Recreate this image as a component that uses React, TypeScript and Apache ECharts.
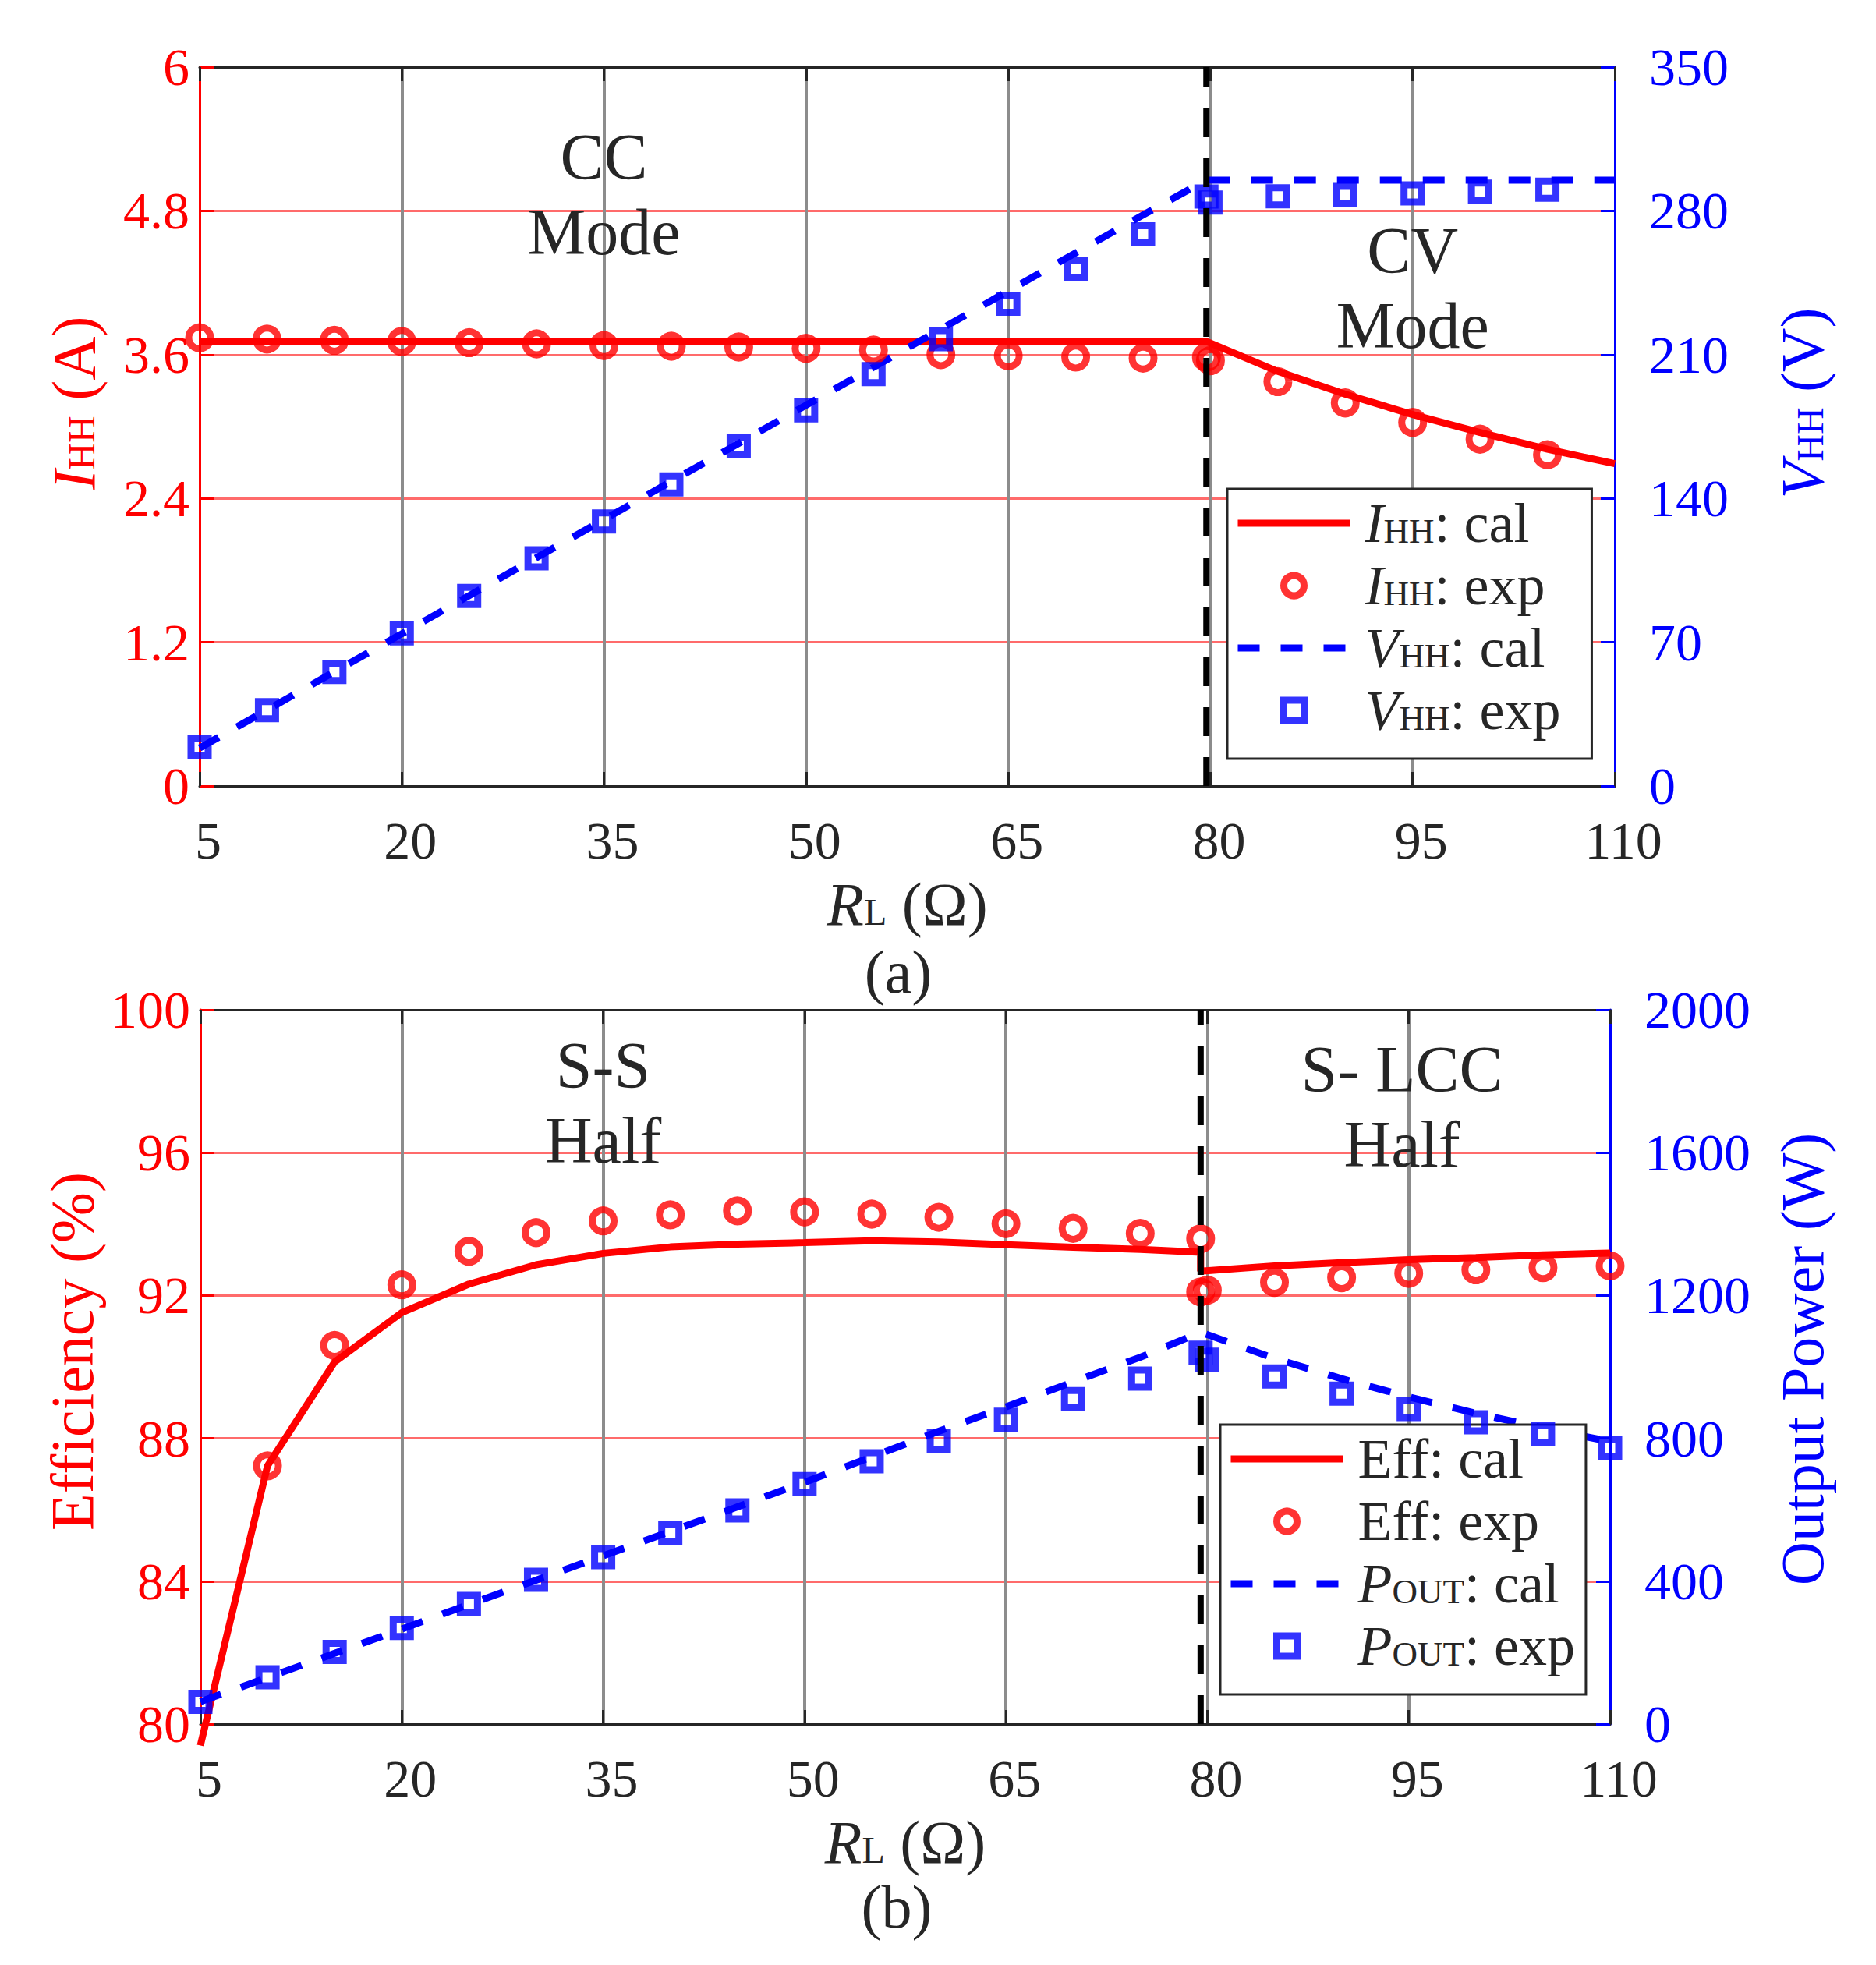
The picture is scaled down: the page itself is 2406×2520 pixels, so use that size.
import React, { useEffect, useRef } from 'react';
import * as echarts from 'echarts';

const FONT = 'Liberation Serif';
const RED = '#ff0000';
const BLUE = '#0000ff';
const DARK = '#262626';
const GRID_GRAY = '#8c8c8c';
const GRID_RED = '#ff6b6b';

// ---- (a) I_HH / V_HH vs R_L ----
const rCalA = [5, 10, 15, 20, 25, 30, 35, 40, 45, 50, 55, 60, 65, 70, 75, 79.7, 85, 90, 95, 100, 105, 110];
const iCal = [3.71, 3.71, 3.71, 3.71, 3.71, 3.71, 3.71, 3.71, 3.71, 3.71, 3.71, 3.71, 3.71, 3.71, 3.71, 3.71, 3.46, 3.27, 3.1, 2.95, 2.81, 2.69];
const vCal = [18.5, 37, 55.6, 74.1, 92.7, 111.2, 129.7, 148.3, 166.8, 185.4, 203.9, 222.4, 241, 259.5, 278, 295, 295, 295, 295, 295, 295, 295];

const rExpA = [5, 10, 15, 20, 25, 30, 35, 40, 45, 50, 55, 60, 65, 70, 75, 79.7, 80, 85, 90, 95, 100, 105];
const iExp = [3.74, 3.73, 3.72, 3.71, 3.7, 3.69, 3.675, 3.67, 3.664, 3.653, 3.638, 3.6, 3.59, 3.58, 3.571, 3.577, 3.55, 3.375, 3.197, 3.034, 2.894, 2.764];
const vExp = [18.8, 36.9, 55.5, 74.3, 92.5, 110.8, 128.8, 146.8, 165.3, 182.9, 200.5, 217.5, 234.8, 251.8, 268.6, 287, 284, 287.1, 287.7, 288.5, 289.4, 290.3];

const boundaryA = 79.7;

// ---- (b) efficiency / output power vs R_L ----
const rEffCal = [5, 10, 15, 20, 25, 30, 35, 40, 45, 50, 55, 60, 65, 70, 75, 79.5, 79.5, 85, 90, 95, 100, 105, 110];
const effCal = [79.4, 87.23, 90.14, 91.52, 92.32, 92.86, 93.18, 93.36, 93.44, 93.48, 93.53, 93.5, 93.42, 93.35, 93.29, 93.21, 92.68, 92.83, 92.92, 93.0, 93.06, 93.14, 93.19];

const rEffExp = [10, 15, 20, 25, 30, 35, 40, 45, 50, 55, 60, 65, 70, 75, 79.5, 79.5, 80, 85, 90, 95, 100, 105, 110];
const effExp = [87.23, 90.6, 92.3, 93.24, 93.76, 94.09, 94.26, 94.37, 94.34, 94.28, 94.19, 94.01, 93.88, 93.74, 93.59, 92.1, 92.15, 92.37, 92.5, 92.62, 92.72, 92.78, 92.83];

const rPCal = [5, 10, 15, 20, 25, 30, 35, 40, 45, 50, 55, 60, 65, 70, 75, 79.5, 85, 90, 95, 100, 105, 110];
const pCal = [63, 130, 198, 266, 335, 403, 471, 539, 608, 677, 748, 820, 888, 958, 1027, 1097, 1024, 967, 916, 870, 829, 791];

const rPExp = [5, 10, 15, 20, 25, 30, 35, 40, 45, 50, 55, 60, 65, 70, 75, 79.5, 80, 85, 90, 95, 100, 105, 110];
const pExp = [62, 131, 202, 269, 336, 404, 467, 534, 598, 672, 736, 792, 852, 910, 967, 1040, 1020, 973, 925, 882, 845, 812, 772];

const boundaryB = 79.5;

const zip = (xs: number[], ys: number[]) => xs.map((x, i) => [x, ys[i]]);

const TICK = 68;
const NAME = 78;
const LEG = 72;
const SQUARE = 'path://M0,0H10V10H0Z';

const richFor = (color: string, size: number) => ({
  i: { fontStyle: 'italic', fontSize: size, color, fontFamily: FONT, verticalAlign: 'bottom' },
  s: { fontSize: Math.round(size * 0.62), color, fontFamily: FONT, verticalAlign: 'bottom', padding: [0, 0, Math.round(size * 0.06), 0] },
  n: { fontSize: size, color, fontFamily: FONT, verticalAlign: 'bottom' },
});

const legendText: Record<string, string> = {
  'I_HH: cal': '{i|I}{s|HH}{n|: cal}',
  'I_HH: exp': '{i|I}{s|HH}{n|: exp}',
  'V_HH: cal': '{i|V}{s|HH}{n|: cal}',
  'V_HH: exp': '{i|V}{s|HH}{n|: exp}',
  'Eff: cal': '{n|Eff: cal}',
  'Eff: exp': '{n|Eff: exp}',
  'P_OUT: cal': '{i|P}{s|OUT}{n|: cal}',
  'P_OUT: exp': '{i|P}{s|OUT}{n|: exp}',
};

const xBottom = (gridIndex: number) => ({
  type: 'value',
  gridIndex,
  position: 'bottom',
  min: 5,
  max: 110,
  interval: 15,
  axisLine: { show: true, onZero: false, lineStyle: { color: DARK, width: 3 } },
  axisTick: { show: true, inside: true, length: 18, lineStyle: { color: DARK, width: 3 } },
  axisLabel: { color: DARK, fontSize: TICK, fontFamily: FONT, margin: 36, padding: [0, 0, 0, 22] },
  splitLine: { show: true, showMinLine: false, showMaxLine: false, lineStyle: { color: GRID_GRAY, width: 4 } },
  name: '{i|R}{s|L}{n| (Ω)}',
  nameLocation: 'middle',
  nameGap: 112,
  nameTextStyle: { rich: richFor(DARK, NAME) },
});

const xTop = (gridIndex: number) => ({
  type: 'value',
  gridIndex,
  position: 'top',
  min: 5,
  max: 110,
  interval: 15,
  axisLine: { show: true, onZero: false, lineStyle: { color: DARK, width: 3 } },
  axisTick: { show: true, inside: true, length: 18, lineStyle: { color: DARK, width: 3 } },
  axisLabel: { show: false },
  splitLine: { show: false },
});

const yLeft = (gridIndex: number, min: number, max: number, interval: number, name: string, gap: number, lift: number) => ({
  type: 'value',
  gridIndex,
  position: 'left',
  min,
  max,
  interval,
  axisLine: { show: true, onZero: false, lineStyle: { color: RED, width: 3 } },
  axisTick: { show: true, inside: true, length: 18, lineStyle: { color: RED, width: 3 } },
  axisLabel: { color: RED, fontSize: TICK, fontFamily: FONT, margin: 13, formatter: (v: number) => String(+v.toFixed(1)) },
  splitLine: { show: true, showMinLine: false, showMaxLine: false, lineStyle: { color: GRID_RED, width: 3 } },
  name,
  nameLocation: 'middle',
  nameRotate: 90,
  nameGap: gap,
  nameTextStyle: { color: RED, padding: [0, 0, 0, lift], rich: richFor(RED, NAME) },
});

const yRight = (gridIndex: number, min: number, max: number, interval: number, name: string, gap: number, lift: number) => ({
  type: 'value',
  gridIndex,
  position: 'right',
  min,
  max,
  interval,
  axisLine: { show: true, onZero: false, lineStyle: { color: BLUE, width: 3 } },
  axisTick: { show: true, inside: true, length: 18, lineStyle: { color: BLUE, width: 3 } },
  axisLabel: { color: BLUE, fontSize: TICK, fontFamily: FONT, margin: 44, formatter: (v: number) => String(v) },
  splitLine: { show: false },
  name,
  nameLocation: 'middle',
  nameRotate: 90,
  nameGap: gap,
  nameTextStyle: { color: BLUE, padding: [0, 0, 0, lift], rich: richFor(BLUE, NAME) },
});

const calLine = (name: string, xi: number, yi: number, data: number[][], color: string, dashed: boolean, clip = true) => ({
  name,
  type: 'line',
  xAxisIndex: xi,
  yAxisIndex: yi,
  data,
  symbol: 'none',
  clip,
  lineStyle: { color, width: 9, type: dashed ? [28, 27] : 'solid' },
  itemStyle: { color },
  z: 3,
  silent: true,
});

const expMarks = (name: string, xi: number, yi: number, data: number[][], color: string, shape: 'circle' | 'rect') => ({
  name,
  type: 'scatter',
  xAxisIndex: xi,
  yAxisIndex: yi,
  data,
  symbol: shape === 'circle' ? 'circle' : SQUARE,
  symbolSize: shape === 'circle' ? 28 : 22,
  itemStyle: { color: 'transparent', borderColor: color, borderWidth: 9 },
  z: 4,
  silent: true,
});

// mode captions, anchored at data coordinates
const note = (xi: number, yi: number, pos: number[], text: string) => ({
  type: 'scatter',
  xAxisIndex: xi,
  yAxisIndex: yi,
  data: [pos],
  symbolSize: 1,
  itemStyle: { color: '#fff', opacity: 0 },
  label: {
    show: true,
    position: 'top',
    distance: 0,
    align: 'center',
    verticalAlign: 'middle',
    formatter: text,
    fontSize: 84,
    lineHeight: 96,
    color: DARK,
    opacity: 1,
    fontFamily: FONT,
  },
  z: 6,
  silent: true,
});

const divider = (xi: number, yi: number, x: number, y0: number, y1: number) => ({
  type: 'line',
  xAxisIndex: xi,
  yAxisIndex: yi,
  data: [[x, y0], [x, y1]],
  symbol: 'none',
  lineStyle: { color: '#000', width: 8, type: [37, 27] },
  z: 5,
  silent: true,
});

const legendFor = (left: number, top: number, names: string[], padRight: number) => ({
  orient: 'vertical',
  left,
  top,
  itemWidth: 144,
  itemHeight: 26,
  itemGap: 8,
  padding: [8, padRight, 26, 9],
  backgroundColor: '#fff',
  borderColor: DARK,
  borderWidth: 3,
  borderRadius: 0,
  selectedMode: false,
  data: names.map((name, k) =>
    k % 2 === 0
      ? { name, lineStyle: { width: 9 }, itemStyle: { color: 'transparent', borderWidth: 0, opacity: 0 } }
      : { name, icon: k === 1 ? 'circle' : SQUARE, itemStyle: { borderWidth: 9 } }
  ),
  formatter: (name: string) => legendText[name],
  textStyle: { color: DARK, fontSize: LEG, fontFamily: FONT, padding: [0, 0, 0, 14], rich: richFor(DARK, LEG) },
});

const App: React.FC = () => {
  const chartRef = useRef<HTMLDivElement>(null);

  useEffect(() => {
    if (!chartRef.current) return;
    const chart = echarts.init(chartRef.current, undefined, { renderer: 'svg' });

    const option: any = {
      animation: false,
      backgroundColor: '#fff',
      textStyle: { fontFamily: FONT },
      grid: [
        { left: 256, top: 86, width: 1815, height: 922 },
        { left: 257, top: 1295, width: 1808, height: 916 },
      ],
      xAxis: [xBottom(0), xTop(0), xBottom(1), xTop(1)],
      yAxis: [
        yLeft(0, 0, 6, 1.2, '{i|I}{s|HH}{n| (A)}', 123, 60),
        yRight(0, 0, 350, 70, '{i|V}{s|HH}{n| (V)}', 201, 60),
        yLeft(1, 80, 100, 4, '{n|Efficiency (%)}', 123, 40),
        yRight(1, 0, 2000, 400, '{n|Output Power (W)}', 207, 20),
      ],
      legend: [
        legendFor(1574, 627, ['I_HH: cal', 'I_HH: exp', 'V_HH: cal', 'V_HH: exp'], 40),
        legendFor(1565, 1827, ['Eff: cal', 'Eff: exp', 'P_OUT: cal', 'P_OUT: exp'], 14),
      ],
      graphic: [
        { type: 'text', x: 1152, y: 1246, style: { text: '(a)', font: `${NAME}px "${FONT}"`, fill: DARK, align: 'center', verticalAlign: 'middle' } },
        { type: 'text', x: 1150, y: 2445, style: { text: '(b)', font: `${NAME}px "${FONT}"`, fill: DARK, align: 'center', verticalAlign: 'middle' } },
      ],
      series: [
        calLine('I_HH: cal', 0, 0, zip(rCalA, iCal), RED, false),
        expMarks('I_HH: exp', 0, 0, zip(rExpA, iExp), RED, 'circle'),
        calLine('V_HH: cal', 0, 1, zip(rCalA, vCal), BLUE, true),
        expMarks('V_HH: exp', 0, 1, zip(rExpA, vExp), BLUE, 'rect'),
        divider(0, 0, boundaryA, 0, 6),
        note(0, 0, [35, 4.93], 'CC\nMode'),
        note(0, 0, [95, 4.15], 'CV\nMode'),

        calLine('Eff: cal', 2, 2, zip(rEffCal, effCal), RED, false, false),
        expMarks('Eff: exp', 2, 2, zip(rEffExp, effExp), RED, 'circle'),
        calLine('P_OUT: cal', 2, 3, zip(rPCal, pCal), BLUE, true),
        expMarks('P_OUT: exp', 2, 3, zip(rPExp, pExp), BLUE, 'rect'),
        divider(2, 2, boundaryB, 80, 100),
        note(2, 2, [35, 97.38], 'S-S\nHalf'),
        note(2, 2, [94.5, 97.27], 'S- LCC\nHalf'),
      ],
    };

    chart.setOption(option);
    return () => chart.dispose();
  }, []);

  return (
    <div
      ref={chartRef}
      style={{ position: 'absolute', left: 0, top: 0, width: 2406, height: 2520, background: '#fff' }}
    />
  );
};

export default App;
